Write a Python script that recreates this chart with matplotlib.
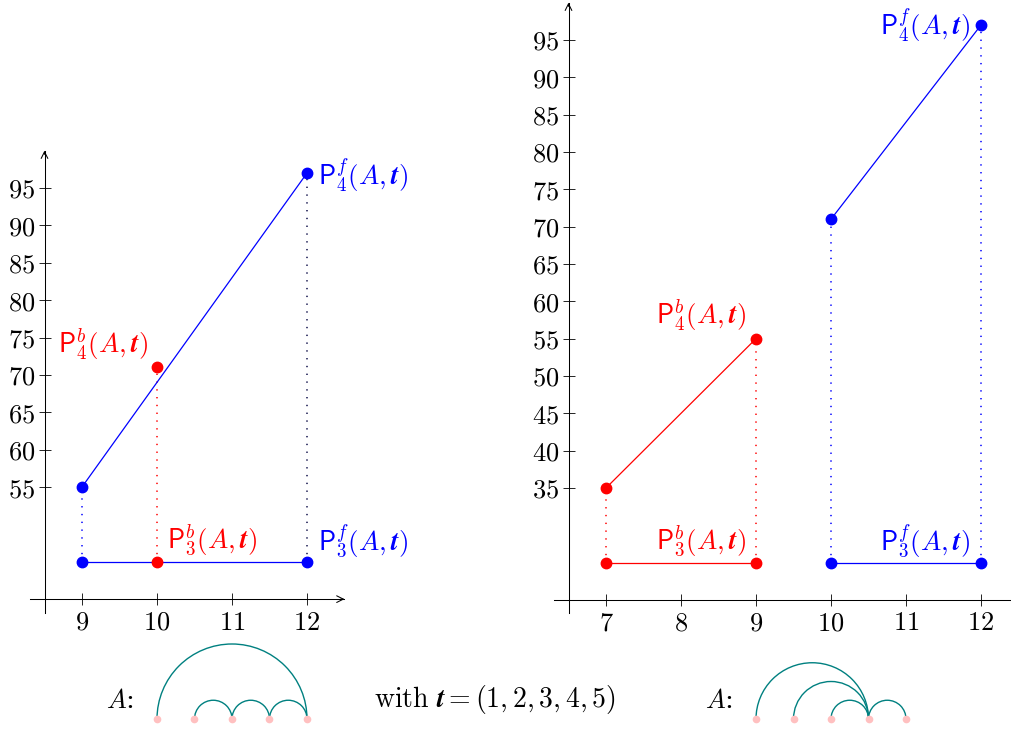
import matplotlib
matplotlib.use("Agg")
import matplotlib.pyplot as plt
from matplotlib.patches import Arc

plt.rcParams["mathtext.fontset"] = "cm"
plt.rcParams["font.family"] = ["DejaVu Serif"]

# ---------------- data ----------------
BLUE = "#0000ff"
RED = "#ff0000"
TEAL = "#008080"
PINK = "#ffc0c0"

# left chart
left_xticks = [9, 10, 11, 12]
left_yticks = [55, 60, 65, 70, 75, 80, 85, 90, 95]
left_p3_level = 45
left_fwd_x = [9, 12]
left_fwd_p4 = [55, 97]
left_bwd_x = [10]
left_bwd_p4 = [71]

# right chart
right_xticks = [7, 8, 9, 10, 11, 12]
right_yticks = [35, 40, 45, 50, 55, 60, 65, 70, 75, 80, 85, 90, 95]
right_p3_level = 25
right_bwd_x = [7, 9]
right_bwd_p4 = [35, 55]
right_fwd_x = [10, 12]
right_fwd_p4 = [71, 97]

# arc diagrams (pairs of nodes)
nodes = [1, 2, 3, 4, 5]
left_arcs = [(1, 5), (2, 3), (3, 4), (4, 5)]
right_arcs = [(1, 4), (2, 4), (3, 4), (4, 5)]

lab_P4f = r"$\mathsf{P}_4^f(A,\boldsymbol{t})$"
lab_P3f = r"$\mathsf{P}_3^f(A,\boldsymbol{t})$"
lab_P4b = r"$\mathsf{P}_4^b(A,\boldsymbol{t})$"
lab_P3b = r"$\mathsf{P}_3^b(A,\boldsymbol{t})$"

TICK_FS = 19
LAB_FS = 19.5

# ---------------- figure ----------------
W, H = 1012, 730
fig = plt.figure(figsize=(W / 100, H / 100), dpi=100)


def axes_from_px(xlim, ylim, x_ref, px_x, y_ref, px_y, sx, sy):
    left = px_x + (xlim[0] - x_ref) * sx
    right = px_x + (xlim[1] - x_ref) * sx
    top = px_y - (ylim[1] - y_ref) * sy
    bottom = px_y - (ylim[0] - y_ref) * sy
    ax = fig.add_axes([left / W, 1 - bottom / H, (right - left) / W, (bottom - top) / H])
    ax.set_xlim(xlim)
    ax.set_ylim(ylim)
    ax.patch.set_visible(False)
    return ax


def style(ax, xaxis_y, yaxis_x, xticks, yticks, x_arrow=True):
    ax.spines["top"].set_visible(False)
    ax.spines["right"].set_visible(False)
    ax.spines["bottom"].set_position(("data", xaxis_y))
    ax.spines["left"].set_position(("data", yaxis_x))
    for s in ("bottom", "left"):
        ax.spines[s].set_linewidth(0.75)
    ax.set_xticks(xticks)
    ax.set_xticklabels([f"${t}$" for t in xticks])
    ax.set_yticks(yticks)
    ax.set_yticklabels([f"${t}$" for t in yticks])
    ax.tick_params(axis="x", direction="inout", length=9, width=0.6, labelsize=TICK_FS, pad=3)
    ax.tick_params(axis="y", direction="inout", length=8, width=0.6, labelsize=TICK_FS, pad=2.5)
    x1 = ax.get_xlim()[1]
    y1 = ax.get_ylim()[1]
    ap = dict(arrowstyle="->", lw=0.75, color="black", shrinkA=0, shrinkB=0, mutation_scale=12)
    if x_arrow:
        ax.annotate("", xy=(x1, xaxis_y), xytext=(x1 - 0.05, xaxis_y), arrowprops=ap, annotation_clip=False)
    ax.annotate("", xy=(yaxis_x, y1), xytext=(yaxis_x, y1 - 0.5), arrowprops=ap, annotation_clip=False)


dot = dict(linestyle="none", marker="o", markersize=7.5, zorder=5, clip_on=False)
dotted = (0, (0.9, 4.2))
DOT_LW = 1.1

# ---------- left chart ----------
axL = axes_from_px((8.30, 12.5), (38.2, 100), 9, 82, 55, 487, 75, 7.475)
style(axL, 40, 8.5, left_xticks, left_yticks)

axL.plot([left_fwd_x[0], left_fwd_x[0]], [left_p3_level, left_fwd_p4[0]], color=BLUE, lw=DOT_LW, linestyle=dotted)
axL.plot([left_bwd_x[0], left_bwd_x[0]], [left_p3_level, left_bwd_p4[0]], color=RED, lw=DOT_LW, linestyle=dotted)
axL.plot([left_fwd_x[1], left_fwd_x[1]], [left_p3_level, left_fwd_p4[1]], color="#10104a", lw=DOT_LW, linestyle=dotted)
axL.plot(left_fwd_x, [left_p3_level] * 2, color=BLUE, lw=0.9)
axL.plot(left_fwd_x, left_fwd_p4, color=BLUE, lw=0.9)
axL.plot(left_fwd_x, [left_p3_level] * 2, color=BLUE, **dot)
axL.plot(left_fwd_x, left_fwd_p4, color=BLUE, **dot)
axL.plot(left_bwd_x, [left_p3_level], color=RED, **dot)
axL.plot(left_bwd_x, left_bwd_p4, color=RED, **dot)

axL.text(12.14, 96.7, lab_P4f, color=BLUE, fontsize=LAB_FS, ha="left", va="center")
axL.text(12.14, 47.9, lab_P3f, color=BLUE, fontsize=LAB_FS, ha="left", va="center")
axL.text(9.28, 74.0, lab_P4b, color=RED, fontsize=LAB_FS, ha="center", va="center")
axL.text(10.74, 47.9, lab_P3b, color=RED, fontsize=LAB_FS, ha="center", va="center")

# ---------- right chart ----------
axR = axes_from_px((6.30, 12.5), (18.2, 100), 7, 606, 35, 488, 75, 7.467)
style(axR, 20, 6.5, right_xticks, right_yticks, x_arrow=False)

for xv, top in zip(right_bwd_x, right_bwd_p4):
    axR.plot([xv, xv], [right_p3_level, top], color=RED, lw=DOT_LW, linestyle=dotted)
for xv, top in zip(right_fwd_x, right_fwd_p4):
    axR.plot([xv, xv], [right_p3_level, top], color=BLUE, lw=DOT_LW, linestyle=dotted)
axR.plot(right_bwd_x, [right_p3_level] * 2, color=RED, lw=0.9)
axR.plot(right_bwd_x, right_bwd_p4, color=RED, lw=0.9)
axR.plot(right_fwd_x, [right_p3_level] * 2, color=BLUE, lw=0.9)
axR.plot(right_fwd_x, right_fwd_p4, color=BLUE, lw=0.9)
axR.plot(right_bwd_x, [right_p3_level] * 2, color=RED, **dot)
axR.plot(right_bwd_x, right_bwd_p4, color=RED, **dot)
axR.plot(right_fwd_x, [right_p3_level] * 2, color=BLUE, **dot)
axR.plot(right_fwd_x, right_fwd_p4, color=BLUE, **dot)

axR.text(11.86, 97.0, lab_P4f, color=BLUE, fontsize=LAB_FS, ha="right", va="center")
axR.text(11.25, 27.9, lab_P3f, color=BLUE, fontsize=LAB_FS, ha="center", va="center")
axR.text(8.27, 58.0, lab_P4b, color=RED, fontsize=LAB_FS, ha="center", va="center")
axR.text(8.27, 27.9, lab_P3b, color=RED, fontsize=LAB_FS, ha="center", va="center")


# ---------- arc diagrams ----------
def diagram(px_node1, arcs):
    ax = axes_from_px((-0.6, 6.0), (-0.35, 2.3), 1, px_node1, 0, 719, 37.5, 37.5)
    ax.axis("off")
    for a, b in arcs:
        ax.add_patch(Arc(((a + b) / 2, 0), b - a, b - a, theta1=0, theta2=180,
                         color=TEAL, lw=1.0, zorder=2))
    ax.plot(nodes, [0] * len(nodes), linestyle="none", marker="o", markersize=4.5,
            color=PINK, zorder=3, clip_on=False)
    ax.text(0.0, 0.5, r"$A$" + ":", fontsize=19, ha="center", va="center")
    return ax


diagram(157, left_arcs)
diagram(756, right_arcs)
fig.text(495 / W, 1 - 700 / H, r"$\mathrm{with}\ \boldsymbol{t}=(1,2,3,4,5)$",
         fontsize=20, ha="center", va="center")

fig.savefig("out.png", dpi=100)
